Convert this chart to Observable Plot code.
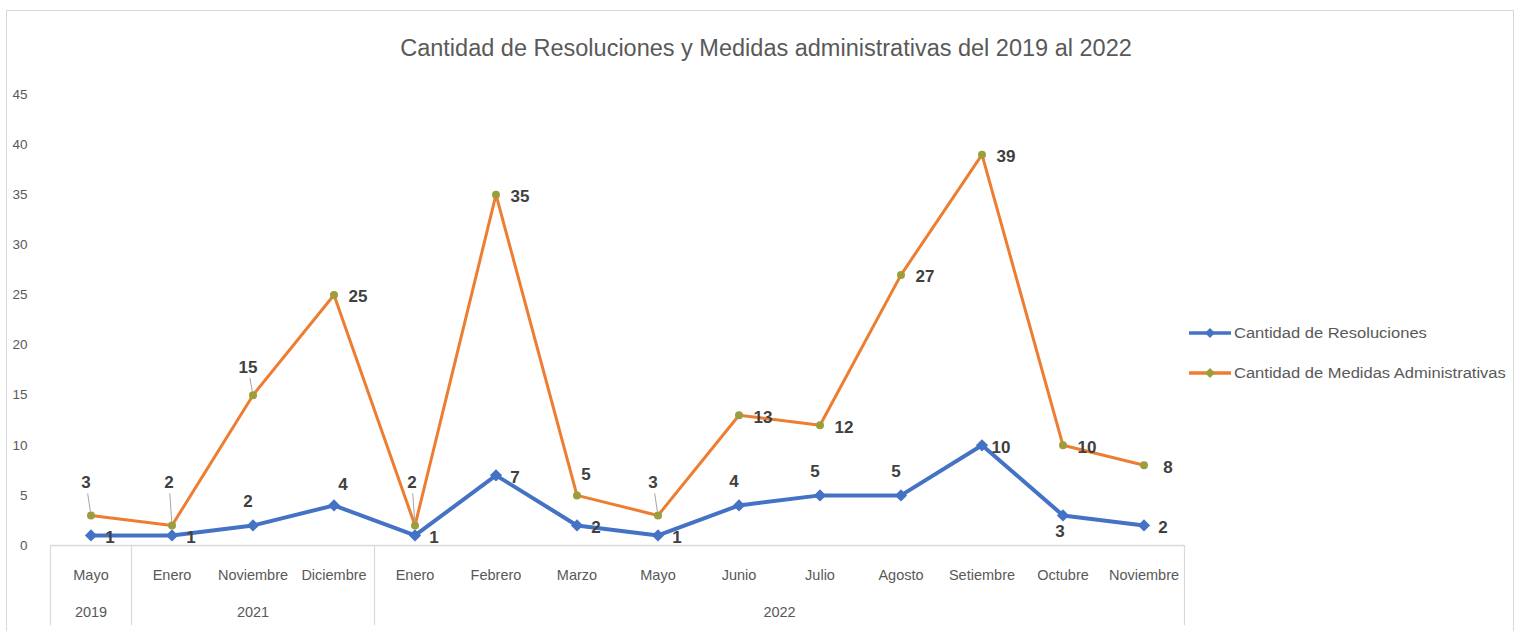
<!DOCTYPE html>
<html><head><meta charset="utf-8">
<script src="https://cdn.jsdelivr.net/npm/d3@7"></script>
<script src="https://cdn.jsdelivr.net/npm/@observablehq/plot@0.6"></script>
<style>
body{margin:0;background:#fff;}
#wrap{position:relative;width:1515px;height:631px;overflow:hidden;font-family:"Liberation Sans",sans-serif;}
#frame{position:absolute;left:6px;top:10px;width:1506px;height:640px;border:1px solid #d9d9d9;}
#title{position:absolute;left:0;width:1532px;top:35px;text-align:center;font-size:23.5px;color:#595959;white-space:nowrap;}
#chart{position:absolute;left:0;top:0;}
.leg{position:absolute;left:1188px;font-size:14px;color:#595959;display:flex;align-items:center;white-space:nowrap;}
.leg span{display:inline-block;transform:scaleX(1.18);transform-origin:left center;}
.leg svg{margin-right:2px;}
</style></head>
<body>
<div id="wrap">
  <div id="frame"></div>
  <div id="chart"></div>
  <div id="title"></div>
  <div id="legend"></div>
</div>
<script>
const titleText = "Cantidad de Resoluciones y Medidas administrativas del 2019 al 2022";
const months = ["Mayo","Enero","Noviembre","Diciembre","Enero","Febrero","Marzo","Mayo","Junio","Julio","Agosto","Setiembre","Octubre","Noviembre"];
const years = ["2019","2021","2021","2021","2022","2022","2022","2022","2022","2022","2022","2022","2022","2022"];
const resoluciones = [1,1,2,4,1,7,2,1,4,5,5,10,3,2];
const medidas = [3,2,15,25,2,35,5,3,13,12,27,39,10,8];
const yTicks = [0,5,10,15,20,25,30,35,40,45];
const seriesNames = ["Cantidad de Resoluciones","Cantidad de Medidas Administrativas"];
// label placement codes (style, not data)
const resLabelPos = ["R","R","T","TR","R","R","R","R","T","T","T","R","B","R"];
const medLabelPos = ["TM","TH","TL","R","TH","R","TR","TM","R","R","R","R","R","R"];

const blue = "#4472C4", orange = "#ED7D31", olive = "#9C9E3C";
const font = '"Liberation Sans",sans-serif';

document.getElementById("title").textContent = titleText;

const rows = months.map((m, i) => ({i, month: m, year: years[i], res: resoluciones[i], med: medidas[i], rp: resLabelPos[i], mp: medLabelPos[i]}));
const groups = d3.groups(rows, d => d.year).map(([year, rs]) => ({year, mid: d3.mean(rs, d => d.i), start: d3.min(rs, d => d.i) - 0.5, end: d3.max(rs, d => d.i) + 0.5}));
const seps = [...groups.map(g => g.start), groups[groups.length - 1].end];

const offsets = {
  R: [20, 2], T: [-5, -24], TR: [9, -21], B: [-3, 16],
  TL: [-5, -28], TM: [-5, -33], TH: [-3, -43]
};
const leaderLen = {TL: 17, TM: 22, TH: 32};

const labelMarks = [];
for (const [code, [dx, dy]] of Object.entries(offsets)) {
  const rr = rows.filter(d => d.rp === code);
  if (rr.length) labelMarks.push(Plot.text(rr, {x: "i", y: "res", text: d => String(d.res), dx: code === "R" ? dx - 1 : dx, dy, fill: "#404040", fontSize: 17, fontWeight: "bold"}));
  const mr = rows.filter(d => d.mp === code);
  if (mr.length) labelMarks.push(Plot.text(mr, {x: "i", y: "med", text: d => String(d.med), dx: code === "R" ? dx + 4 : dx, dy, fill: "#404040", fontSize: 17, fontWeight: "bold"}));
  if (leaderLen[code] && mr.length) {
    labelMarks.push(Plot.vector(mr, {x: "i", y: "med", length: leaderLen[code], rotate: Math.atan2(dx, -dy) * 180 / Math.PI, anchor: "start", stroke: "#a6a6a6", strokeWidth: 1,
      shape: {draw(ctx, l) { ctx.moveTo(0, -4); ctx.lineTo(0, -l); }}}));
  }
}

const chart = Plot.plot({
  width: 1515, height: 631,
  marginLeft: 50, marginRight: 331, marginTop: 94, marginBottom: 86,
  x: {type: "linear", domain: [-0.5, 13.5], axis: null},
  y: {domain: [0, 45], axis: null},
  style: {fontFamily: font, background: "transparent", overflow: "visible"},
  marks: [
    Plot.axisY({ticks: yTicks, tickSize: 0, tickPadding: 23, fontSize: 13.5, color: "#595959", label: null, tickFormat: d => String(d)}),
    Plot.ruleY([0], {x1: -0.5, x2: 13.5, stroke: "#d9d9d9", strokeWidth: 1.5}),
    Plot.ruleX(seps, {x: d => d, y1: 0, y2: -8, stroke: "#d9d9d9", strokeWidth: 1.2}),
    Plot.text(rows, {x: "i", y: 0, text: "month", dy: 30, fill: "#595959", fontSize: 14.5}),
    Plot.text(groups, {x: "mid", y: 0, text: "year", dy: 67, fill: "#595959", fontSize: 14.5}),
    Plot.line(rows, {x: "i", y: "res", stroke: blue, strokeWidth: 4}),
    Plot.line(rows, {x: "i", y: "med", stroke: orange, strokeWidth: 3}),
    Plot.dot(rows, {x: "i", y: "res", r: 5.5, fill: blue, symbol: "diamond2"}),
    Plot.dot(rows, {x: "i", y: "med", r: 4, fill: olive}),
    ...labelMarks
  ]
});
document.getElementById("chart").appendChild(chart);

// legend
const legend = document.getElementById("legend");
[[seriesNames[0], blue, blue, 333], [seriesNames[1], orange, olive, 373]].forEach(([name, c, mc, y]) => {
  const d = document.createElement("div");
  d.className = "leg";
  d.style.top = (y - 9) + "px";
  d.innerHTML = `<svg width="44" height="18"><line x1="1" x2="43" y1="9" y2="9" stroke="${c}" stroke-width="3.5"/><path d="M22,4 L27,9 L22,14 L17,9Z" fill="${mc}"/></svg><span>${name}</span>`;
  legend.appendChild(d);
});
</script>
</body></html>
